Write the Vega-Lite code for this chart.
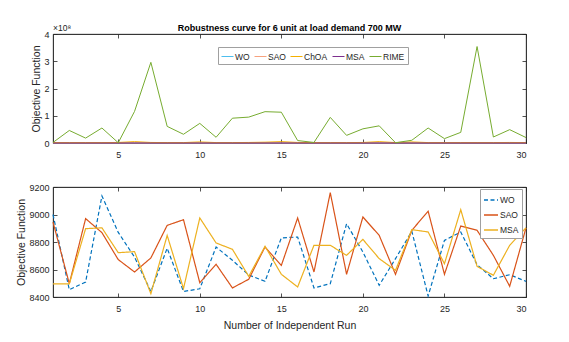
{
  "$schema": "https://vega.github.io/schema/vega-lite/v6.json",
  "padding": {"left": 16, "top": 23, "right": 5, "bottom": 5},
  "background": "white",
  "bounds": "flush",
  "spacing": 44,
  "config": {
    "font": "Liberation Sans",
    "view": {"stroke": "#262626", "strokeWidth": 0.8},
    "axis": {"grid": false, "domainColor": "#262626", "tickColor": "#262626", "labelColor": "#262626", "titleColor": "#262626", "labelFont": "Liberation Sans", "titleFont": "Liberation Sans", "labelFontSize": 9, "titleFontSize": 10.5, "titleFontWeight": "normal", "tickSize": -4, "titlePadding": 2, "domainWidth": 0.8, "tickWidth": 0.8},
    "axisX": {"labelPadding": 11},
    "axisY": {"labelPadding": 8},
    "legend": {"labelFont": "Liberation Sans", "labelColor": "#262626", "symbolType": "stroke", "fillColor": "white", "strokeColor": "#a0a0a0", "padding": 3, "labelOffset": 1},
    "title": {"font": "Liberation Sans", "color": "#000000", "fontWeight": "bold", "fontSize": 9}
  },
  "datasets": {
    "d": [
      {"run":1,"algo":"WO","value":9000},{"run":2,"algo":"WO","value":8453},{"run":3,"algo":"WO","value":8509},{"run":4,"algo":"WO","value":9135},{"run":5,"algo":"WO","value":8870},{"run":6,"algo":"WO","value":8690},{"run":7,"algo":"WO","value":8440},{"run":8,"algo":"WO","value":8755},{"run":9,"algo":"WO","value":8440},{"run":10,"algo":"WO","value":8460},{"run":11,"algo":"WO","value":8763},{"run":12,"algo":"WO","value":8667},{"run":13,"algo":"WO","value":8560},{"run":14,"algo":"WO","value":8514},{"run":15,"algo":"WO","value":8830},{"run":16,"algo":"WO","value":8836},{"run":17,"algo":"WO","value":8466},{"run":18,"algo":"WO","value":8497},{"run":19,"algo":"WO","value":8933},{"run":20,"algo":"WO","value":8727},{"run":21,"algo":"WO","value":8485},{"run":22,"algo":"WO","value":8679},{"run":23,"algo":"WO","value":8878},{"run":24,"algo":"WO","value":8407},{"run":25,"algo":"WO","value":8812},{"run":26,"algo":"WO","value":8873},{"run":27,"algo":"WO","value":8635},{"run":28,"algo":"WO","value":8533},{"run":29,"algo":"WO","value":8562},{"run":30,"algo":"WO","value":8514},
      {"run":1,"algo":"SAO","value":8945},{"run":2,"algo":"SAO","value":8497},{"run":3,"algo":"SAO","value":8970},{"run":4,"algo":"SAO","value":8868},{"run":5,"algo":"SAO","value":8672},{"run":6,"algo":"SAO","value":8582},{"run":7,"algo":"SAO","value":8684},{"run":8,"algo":"SAO","value":8921},{"run":9,"algo":"SAO","value":8962},{"run":10,"algo":"SAO","value":8504},{"run":11,"algo":"SAO","value":8638},{"run":12,"algo":"SAO","value":8466},{"run":13,"algo":"SAO","value":8529},{"run":14,"algo":"SAO","value":8764},{"run":15,"algo":"SAO","value":8630},{"run":16,"algo":"SAO","value":8975},{"run":17,"algo":"SAO","value":8582},{"run":18,"algo":"SAO","value":9159},{"run":19,"algo":"SAO","value":8565},{"run":20,"algo":"SAO","value":8982},{"run":21,"algo":"SAO","value":8848},{"run":22,"algo":"SAO","value":8565},{"run":23,"algo":"SAO","value":8885},{"run":24,"algo":"SAO","value":9024},{"run":25,"algo":"SAO","value":8565},{"run":26,"algo":"SAO","value":8916},{"run":27,"algo":"SAO","value":8885},{"run":28,"algo":"SAO","value":8703},{"run":29,"algo":"SAO","value":8478},{"run":30,"algo":"SAO","value":8903},
      {"run":1,"algo":"ChOA","value":1500000},{"run":2,"algo":"ChOA","value":1500000},{"run":3,"algo":"ChOA","value":1500000},{"run":4,"algo":"ChOA","value":1500000},{"run":5,"algo":"ChOA","value":2000000},{"run":6,"algo":"ChOA","value":5000000},{"run":7,"algo":"ChOA","value":2000000},{"run":8,"algo":"ChOA","value":1500000},{"run":9,"algo":"ChOA","value":1500000},{"run":10,"algo":"ChOA","value":4000000},{"run":11,"algo":"ChOA","value":1500000},{"run":12,"algo":"ChOA","value":1500000},{"run":13,"algo":"ChOA","value":2000000},{"run":14,"algo":"ChOA","value":3000000},{"run":15,"algo":"ChOA","value":5000000},{"run":16,"algo":"ChOA","value":2000000},{"run":17,"algo":"ChOA","value":1500000},{"run":18,"algo":"ChOA","value":1500000},{"run":19,"algo":"ChOA","value":1500000},{"run":20,"algo":"ChOA","value":2000000},{"run":21,"algo":"ChOA","value":5000000},{"run":22,"algo":"ChOA","value":1500000},{"run":23,"algo":"ChOA","value":4000000},{"run":24,"algo":"ChOA","value":1500000},{"run":25,"algo":"ChOA","value":1500000},{"run":26,"algo":"ChOA","value":1500000},{"run":27,"algo":"ChOA","value":1500000},{"run":28,"algo":"ChOA","value":1500000},{"run":29,"algo":"ChOA","value":2000000},{"run":30,"algo":"ChOA","value":1500000},
      {"run":1,"algo":"MSA","value":8495},{"run":2,"algo":"MSA","value":8495},{"run":3,"algo":"MSA","value":8897},{"run":4,"algo":"MSA","value":8903},{"run":5,"algo":"MSA","value":8722},{"run":6,"algo":"MSA","value":8730},{"run":7,"algo":"MSA","value":8424},{"run":8,"algo":"MSA","value":8848},{"run":9,"algo":"MSA","value":8461},{"run":10,"algo":"MSA","value":8975},{"run":11,"algo":"MSA","value":8793},{"run":12,"algo":"MSA","value":8747},{"run":13,"algo":"MSA","value":8550},{"run":14,"algo":"MSA","value":8769},{"run":15,"algo":"MSA","value":8565},{"run":16,"algo":"MSA","value":8473},{"run":17,"algo":"MSA","value":8776},{"run":18,"algo":"MSA","value":8776},{"run":19,"algo":"MSA","value":8703},{"run":20,"algo":"MSA","value":8819},{"run":21,"algo":"MSA","value":8679},{"run":22,"algo":"MSA","value":8594},{"run":23,"algo":"MSA","value":8890},{"run":24,"algo":"MSA","value":8873},{"run":25,"algo":"MSA","value":8642},{"run":26,"algo":"MSA","value":9035},{"run":27,"algo":"MSA","value":8623},{"run":28,"algo":"MSA","value":8558},{"run":29,"algo":"MSA","value":8776},{"run":30,"algo":"MSA","value":8903},
      {"run":1,"algo":"RIME","value":2000000},{"run":2,"algo":"RIME","value":46000000},{"run":3,"algo":"RIME","value":18000000},{"run":4,"algo":"RIME","value":55000000},{"run":5,"algo":"RIME","value":1000000},{"run":6,"algo":"RIME","value":116000000},{"run":7,"algo":"RIME","value":296000000},{"run":8,"algo":"RIME","value":61000000},{"run":9,"algo":"RIME","value":32000000},{"run":10,"algo":"RIME","value":72000000},{"run":11,"algo":"RIME","value":21000000},{"run":12,"algo":"RIME","value":91000000},{"run":13,"algo":"RIME","value":95000000},{"run":14,"algo":"RIME","value":115000000},{"run":15,"algo":"RIME","value":113000000},{"run":16,"algo":"RIME","value":9000000},{"run":17,"algo":"RIME","value":2000000},{"run":18,"algo":"RIME","value":94000000},{"run":19,"algo":"RIME","value":28000000},{"run":20,"algo":"RIME","value":52000000},{"run":21,"algo":"RIME","value":63000000},{"run":22,"algo":"RIME","value":1000000},{"run":23,"algo":"RIME","value":10000000},{"run":24,"algo":"RIME","value":55000000},{"run":25,"algo":"RIME","value":16000000},{"run":26,"algo":"RIME","value":39000000},{"run":27,"algo":"RIME","value":354000000},{"run":28,"algo":"RIME","value":22000000},{"run":29,"algo":"RIME","value":49000000},{"run":30,"algo":"RIME","value":20000000}
    ]
  },
  "resolve": {"scale": {"color": "independent", "strokeWidth": "independent", "strokeDash": "independent", "y": "independent"}, "legend": {"color": "independent", "strokeWidth": "independent", "strokeDash": "independent"}},
  "vconcat": [
    {
      "width": 473,
      "height": 109,
      "title": {"text": "Robustness curve for 6 unit at load demand 700 MW", "offset": -9},
      "layer": [
        {
          "data": {"name": "d"},
          "mark": {"type": "line"},
          "encoding": {
            "x": {"field": "run", "type": "quantitative", "scale": {"domain": [1, 30], "nice": false, "zero": false}, "axis": {"values": [5, 10, 15, 20, 25, 30], "title": null}},
            "y": {"field": "value", "type": "quantitative", "scale": {"domain": [0, 400000000], "nice": false}, "axis": {"values": [0, 100000000, 200000000, 300000000, 400000000], "labelExpr": "format(datum.value / 100000000, 'd')", "title": "Objective Function"}},
            "color": {"field": "algo", "type": "nominal", "scale": {"domain": ["WO", "SAO", "ChOA", "MSA", "RIME"], "range": ["#4DBEEE", "#F7A27E", "#F5B000", "#7E2F8E", "#77AC30"]}, "legend": {"title": null, "orient": "none", "legendX": 165, "legendY": 13, "direction": "horizontal", "symbolSize": 144, "labelFontSize": 8.5, "columnPadding": 2}},
            "strokeWidth": {"field": "algo", "type": "nominal", "scale": {"domain": ["WO", "SAO", "ChOA", "MSA", "RIME"], "range": [1, 1, 1.2, 1.3, 1.7]}, "legend": {"title": null, "orient": "none", "legendX": 165, "legendY": 13, "direction": "horizontal", "symbolSize": 144, "labelFontSize": 8.5, "columnPadding": 2}}
          }
        },
        {
          "data": {"values": [{"label": "×10⁸"}]},
          "mark": {"type": "text", "align": "left", "baseline": "bottom", "dy": -1, "fontSize": 8.5, "color": "#262626"},
          "encoding": {
            "x": {"datum": 1, "type": "quantitative", "axis": {"orient": "top", "labels": false, "title": null, "values": [5, 10, 15, 20, 25, 30]}},
            "y": {"datum": 400000000, "type": "quantitative", "axis": {"orient": "right", "labels": false, "title": null, "values": [0, 100000000, 200000000, 300000000, 400000000]}},
            "text": {"field": "label"}
          }
        }
      ],
      "resolve": {"axis": {"x": "independent", "y": "independent"}}
    },
    {
      "width": 473,
      "height": 110,
      "layer": [
        {
          "data": {"name": "d"},
          "transform": [{"filter": {"field": "algo", "oneOf": ["WO", "SAO", "MSA"]}}],
          "mark": {"type": "line", "strokeWidth": 1.2},
          "encoding": {
            "x": {"field": "run", "type": "quantitative", "scale": {"domain": [1, 30], "nice": false, "zero": false}, "axis": {"values": [5, 10, 15, 20, 25, 30], "title": "Number of Independent Run", "titlePadding": 7}},
            "y": {"field": "value", "type": "quantitative", "scale": {"domain": [8400, 9200], "nice": false, "zero": false}, "axis": {"values": [8400, 8600, 8800, 9000, 9200], "format": "d", "title": "Objective Function"}},
            "color": {"field": "algo", "type": "nominal", "scale": {"domain": ["WO", "SAO", "MSA"], "range": ["#0072BD", "#D95319", "#EDB120"]}, "legend": {"title": null, "orient": "none", "legendX": 427, "legendY": 2, "symbolSize": 196, "labelFontSize": 8.5, "rowPadding": 2}},
            "strokeDash": {"field": "algo", "type": "nominal", "scale": {"domain": ["WO", "SAO", "MSA"], "range": [[4, 2.5], [1, 0], [1, 0]]}, "legend": {"title": null, "orient": "none", "legendX": 427, "legendY": 2, "symbolSize": 196, "labelFontSize": 8.5, "rowPadding": 2}}
          }
        },
        {
          "data": {"values": [{"label": ""}]},
          "mark": {"type": "text"},
          "encoding": {
            "x": {"datum": 1, "type": "quantitative", "axis": {"orient": "top", "labels": false, "title": null, "values": [5, 10, 15, 20, 25, 30]}},
            "y": {"datum": 8400, "type": "quantitative", "axis": {"orient": "right", "labels": false, "title": null, "values": [8400, 8600, 8800, 9000, 9200]}},
            "text": {"field": "label"}
          }
        }
      ],
      "resolve": {"axis": {"x": "independent", "y": "independent"}}
    }
  ]
}
